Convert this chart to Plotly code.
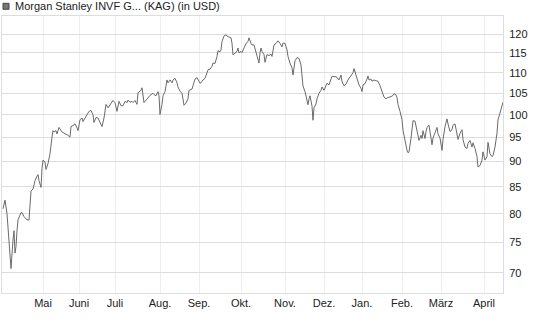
import plotly.graph_objects as go

# time step index (trading-session scale) and fund price in USD
t = [0, 2, 4, 6, 8, 10, 11, 12, 13, 14, 15, 18, 19, 21, 24, 26, 27, 28, 30, 32, 34, 35, 36, 38, 39, 40, 42, 43, 45, 47,
     49, 50, 51, 53, 54, 56, 59, 61, 63, 65, 67, 68, 70, 72, 74, 75, 77, 79, 80, 82, 84, 86, 88, 90, 91, 93, 95, 97, 99, 101,
     103, 105, 108, 110, 112, 114, 116, 118, 120, 122, 124, 125, 127, 129, 130, 132, 134, 135, 138, 139, 141, 144, 147, 150, 151, 153, 155, 156, 157, 159,
     160, 162, 164, 165, 167, 169, 170, 172, 174, 175, 177, 179, 180, 181, 183, 185, 186, 189, 190, 192, 194, 195, 197, 199, 200, 202, 204, 205, 207, 209,
     210, 212, 214, 215, 217, 218, 219, 221, 223, 225, 228, 229, 230, 232, 234, 235, 236, 238, 239, 241, 243, 245, 246, 248, 249, 251, 253, 254, 256, 257,
     258, 259, 261, 262, 263, 264, 266, 268, 269, 271, 273, 275, 277, 279, 280, 282, 284, 285, 287, 289, 290, 292, 294, 296, 298, 299, 300, 302, 304, 305,
     306, 307, 309, 310, 311, 313, 314, 316, 318, 319, 321, 323, 324, 326, 328, 329, 331, 333, 334, 336, 338, 339, 341, 343, 345, 348, 350, 351, 353, 354,
     356, 358, 359, 360, 362, 364, 365, 366, 368, 369, 371, 373, 375, 377, 379, 381, 383, 385, 388, 390, 391, 393, 394, 395, 397, 399, 400, 402, 404, 405,
     406, 408, 409, 410, 412, 414, 415, 416, 418, 419, 420, 422, 423, 424, 426, 428, 429, 430, 432, 434, 435, 437, 439, 440, 442, 444, 445, 447, 449, 450,
     452, 454, 455, 457, 459, 460, 462, 464, 465, 467, 469, 470, 472, 474, 475, 477, 479, 480, 482, 484, 485, 487, 489, 490, 492, 494, 495, 497, 499, 500]
price = [80.9, 82.5, 80.0, 75.1, 70.7, 75.4, 77.0, 73.2, 74.3, 77.0, 78.9, 80.2, 80.2, 79.5, 78.9, 78.9, 82.5, 84.2, 84.6, 86.2, 87.1, 87.4, 86.2, 84.9, 88.6, 90.3, 89.9, 88.4, 89.6, 91.6,
         95.1, 96.5, 96.2, 96.5, 95.8, 97.2, 96.2, 96.0, 95.8, 95.5, 95.1, 97.4, 97.6, 98.0, 97.1, 96.5, 98.9, 99.3, 98.5, 99.3, 100.2, 100.8, 101.0, 100.0, 98.3, 99.4, 99.3, 98.5, 97.4, 99.3,
         102.4, 101.6, 102.7, 103.3, 102.8, 100.8, 103.1, 102.1, 102.1, 103.1, 102.8, 103.4, 102.9, 103.1, 102.8, 103.3, 102.4, 105.1, 105.7, 106.3, 102.8, 103.7, 104.5, 105.0, 104.7, 104.4, 105.4, 104.4, 100.1, 102.4,
         104.4, 105.4, 108.2, 107.5, 108.2, 107.5, 108.2, 108.6, 107.5, 106.5, 105.5, 105.0, 103.7, 102.2, 102.7, 103.7, 105.7, 106.0, 106.8, 108.4, 108.8, 108.2, 107.4, 107.8, 108.2, 108.6, 110.3, 110.7, 110.9, 111.6,
         112.4, 112.3, 114.1, 115.6, 115.3, 115.8, 118.0, 119.5, 119.8, 119.3, 119.0, 117.5, 114.5, 115.0, 115.4, 116.3, 115.0, 115.4, 115.1, 116.3, 117.5, 118.0, 119.0, 117.5, 117.1, 117.1, 115.0, 114.6, 112.4, 115.0,
         116.3, 115.4, 114.6, 112.6, 114.1, 114.6, 114.3, 114.7, 114.1, 117.1, 117.5, 118.2, 117.5, 116.6, 117.6, 117.5, 115.8, 114.1, 112.4, 111.2, 109.4, 113.0, 113.8, 113.6, 111.9, 109.5, 106.7, 105.4, 103.7, 102.3,
         103.7, 104.4, 102.0, 98.8, 101.6, 102.5, 103.7, 105.0, 105.7, 106.5, 105.7, 107.0, 107.4, 107.0, 108.2, 109.1, 109.0, 109.0, 108.8, 108.2, 109.4, 107.8, 106.8, 107.2, 108.2, 109.2, 110.0, 111.0, 109.3, 108.3,
         107.0, 106.2, 105.4, 107.0, 107.3, 108.4, 109.2, 108.2, 108.4, 107.9, 108.2, 108.0, 107.9, 106.8, 105.6, 104.1, 103.7, 104.0, 104.2, 104.5, 104.9, 104.6, 104.0, 102.4, 100.8, 98.9, 96.6, 94.1, 92.3, 91.8,
         92.0, 94.8, 97.1, 98.7, 98.6, 96.5, 95.5, 94.4, 95.5, 94.8, 96.5, 94.8, 96.3, 97.2, 97.7, 95.3, 93.5, 94.9, 96.3, 97.2, 95.8, 94.9, 92.3, 94.6, 97.4, 99.1, 98.0, 96.3, 96.7, 97.7,
         98.0, 95.1, 94.6, 95.9, 96.7, 94.6, 93.0, 92.7, 93.8, 94.4, 93.0, 93.9, 92.7, 91.0, 88.9, 89.2, 90.3, 92.0, 90.3, 91.0, 94.0, 91.6, 91.0, 91.2, 93.0, 96.0, 98.9, 100.4, 102.3, 102.9]

month_pos = [40, 76, 112, 157, 196, 238, 282, 321, 359, 399, 438, 481]
month_labels = ["Mai", "Juni", "Juli", "Aug.", "Sep.", "Okt.", "Nov.", "Dez.", "Jan.", "Feb.", "März", "April"]
y_ticks = [70, 75, 80, 85, 90, 95, 100, 105, 110, 115, 120]
title_text = "Morgan Stanley INVF G... (KAG) (in USD)"

fig = go.Figure()
fig.add_trace(go.Scatter(x=t, y=price, mode="lines", line=dict(color="#6a6a6a", width=1),
                         hoverinfo="skip", showlegend=False))

font = dict(family="Liberation Sans, Arial, sans-serif", size=11, color="#222222")

fig.update_layout(
    width=545, height=327,
    margin=dict(l=2, r=42, t=16, b=34),
    paper_bgcolor="white", plot_bgcolor="white",
    font=font,
    xaxis=dict(range=[-1, 500], tickvals=month_pos, ticktext=month_labels,
               showgrid=True, gridcolor="#eeeeee", gridwidth=1,
               showline=True, linecolor="#dddddd", linewidth=1, mirror=True,
               ticks="", zeroline=False, tickfont=font),
    yaxis=dict(type="log", range=[1.82543, 2.09691], tickvals=y_ticks,
               ticktext=[str(v) for v in y_ticks], side="right",
               showgrid=True, gridcolor="#dddddd", gridwidth=1,
               showline=True, linecolor="#dddddd", linewidth=1, mirror=True,
               ticks="", zeroline=False, tickfont=font, ticklabelstandoff=3),
    annotations=[dict(text=title_text, xref="paper", yref="paper", x=0.0214, y=1.035,
                      xanchor="left", yanchor="middle", showarrow=False, font=font)],
    shapes=[dict(type="rect", xref="paper", yref="paper", x0=0.002, x1=0.014, y0=1.0242, y1=1.0458,
                 fillcolor="#777777", line=dict(color="#444444", width=1))],
)

fig.write_html("out.html")
